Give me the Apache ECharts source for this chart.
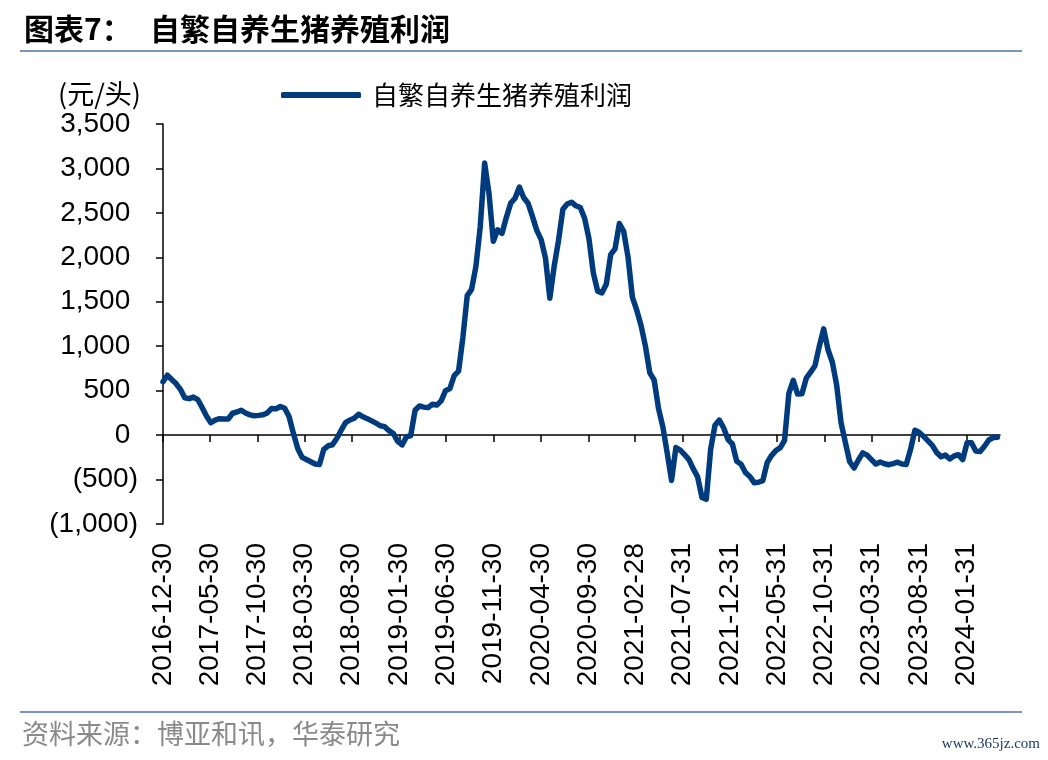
<!DOCTYPE html>
<html>
<head>
<meta charset="utf-8">
<script src="https://cdn.jsdelivr.net/npm/echarts@6/dist/echarts.min.js"></script>
<style>
  html, body { margin: 0; padding: 0; background: #fff; }
  #main { width: 1048px; height: 760px; }
</style>
</head>
<body>
<div id="main"></div>
<script>
// 自繁自养生猪养殖利润（元/头），两周一个点，起点 2016-12-30
const startDate = '2016-12-30';
const stepDays = 14;
const profit = [
  600, 674, 625, 580, 515, 420, 410, 428, 400, 310,
  215, 140, 169, 185, 182, 180, 246, 260, 280, 248,
  228, 218, 222, 228, 250, 300, 295, 322, 302, 210,
  20, -150, -250, -275, -300, -325, -330, -160, -120, -108,
  -35, 55, 140, 170, 190, 235, 206, 185, 160, 135,
  105, 95, 50, 18, -70, -110, -20, -5, 280, 328,
  315, 310, 348, 337, 385, 500, 524, 670, 720, 1100,
  1570, 1640, 1900, 2350, 3060, 2720, 2180, 2310, 2270, 2450,
  2610, 2665, 2790, 2670, 2608, 2460, 2303, 2200, 1990, 1540,
  1900, 2190, 2540, 2600, 2620, 2580, 2560, 2440, 2210, 1825,
  1620, 1600, 1700, 2030, 2095, 2380, 2290, 2000, 1550, 1405,
  1230, 1000, 700, 620, 300, 93, -200, -510, -140, -169,
  -220, -275, -380, -470, -700, -720, -160, 110, 169, 80,
  -50, -100, -295, -328, -420, -465, -535, -530, -512, -310,
  -230, -175, -143, -60, 470, 615, 462, 465, 640, 708,
  780, 1000, 1195, 960, 820, 560, 140, -85, -300, -370,
  -280, -200, -225, -275, -325, -302, -322, -333, -320, -305,
  -325, -330, -160, 55, 30, -15, -65, -115, -195, -244,
  -225, -268, -235, -220, -275, -85, -85, -180, -185, -125,
  -55, -28, -25
];
const tickDates = [
  '2016-12-30', '2017-05-30', '2017-10-30', '2018-03-30', '2018-08-30',
  '2019-01-30', '2019-06-30', '2019-11-30', '2020-04-30', '2020-09-30',
  '2021-02-28', '2021-07-31', '2021-12-31', '2022-05-31', '2022-10-31',
  '2023-03-31', '2023-08-31', '2024-01-31'
];
const axisEnd = '2024-05-18';

function toMs(s) {
  const p = s.split('-').map(Number);
  return Date.UTC(p[0], p[1] - 1, p[2]);
}
const t0 = toMs(startDate);
const seriesData = profit.map((v, i) => [t0 + i * stepDays * 864e5, v]);
const tickMs = tickDates.map(toMs);

// Excel 式 #,##0_);(#,##0)
function fmtNum(v) {
  const s = Math.abs(v).toString().replace(/\B(?=(\d{3})+(?!\d))/g, ',');
  return v < 0 ? '(' + s + ')' : s + ' ';
}

const cjk = '"Noto Sans CJK SC", sans-serif';
const latin = '"Liberation Sans", Arial, sans-serif';
const lineColor = '#003B7E';

let myChart = echarts.init(document.getElementById('main'));
myChart.setOption({
  backgroundColor: '#fff',
  animation: false,
  grid: { left: 163, right: 48, top: 124, bottom: 236, containLabel: false },
  legend: {
    left: 276, top: 77,
    icon: 'roundRect',
    itemWidth: 80, itemHeight: 6,
    textStyle: { fontFamily: cjk, fontSize: 26, color: '#000', padding: [0, 0, 0, 6] },
    data: ['自繁自养生猪养殖利润']
  },
  xAxis: {
    type: 'value',
    min: toMs(startDate), max: toMs(axisEnd),
    axisLine: { onZero: true, lineStyle: { color: '#000', width: 1.5 } },
    axisTick: { show: true, length: 7, customValues: tickMs, lineStyle: { color: '#000', width: 1.5 } },
    axisLabel: {
      customValues: tickMs,
      rotate: 90, margin: 19,
      fontFamily: latin, fontSize: 28, color: '#000',
      formatter: function (v) {
        const k = tickMs.indexOf(v);
        return k >= 0 ? tickDates[k] : '';
      }
    },
    splitLine: { show: false }
  },
  yAxis: {
    type: 'value',
    min: -1000, max: 3500, interval: 500,
    axisLine: { show: true, lineStyle: { color: '#000', width: 1.5 } },
    axisTick: { show: true, length: 7, lineStyle: { color: '#000', width: 1.5 } },
    axisLabel: { fontFamily: latin, fontSize: 28, color: '#000', margin: 25, formatter: fmtNum },
    splitLine: { show: false }
  },
  series: [{
    name: '自繁自养生猪养殖利润',
    type: 'line',
    data: seriesData,
    showSymbol: false,
    symbol: 'none',
    smooth: false,
    lineStyle: { color: lineColor, width: 5.5, cap: 'round', join: 'round' },
    itemStyle: { color: lineColor }
  }],
  graphic: [
    { type: 'text', left: 24, top: 14, style: { text: '图表7：', font: 'bold 30px ' + cjk, fill: '#000' } },
    { type: 'text', left: 150, top: 14, style: { text: '自繁自养生猪养殖利润', font: 'bold 30px ' + cjk, fill: '#000' } },
    { type: 'line', shape: { x1: 20, y1: 51, x2: 1022, y2: 51 }, style: { stroke: '#7a96bd', lineWidth: 2 } },
    { type: 'text', left: 58, top: 80, style: { text: '(元/头)', font: '27px ' + cjk, fill: '#000' } },
    { type: 'line', shape: { x1: 20, y1: 712, x2: 1022, y2: 712 }, style: { stroke: '#7a96bd', lineWidth: 2 } },
    { type: 'text', left: 22, top: 720, style: { text: '资料来源：博亚和讯，华泰研究', font: '27px ' + cjk, fill: '#8a8a8a' } },
    { type: 'text', right: 8, top: 737, style: { text: 'www.365jz.com', font: '15px "Liberation Serif", serif', fill: '#1b3a6b' } }
  ]
});
</script>
</body>
</html>
